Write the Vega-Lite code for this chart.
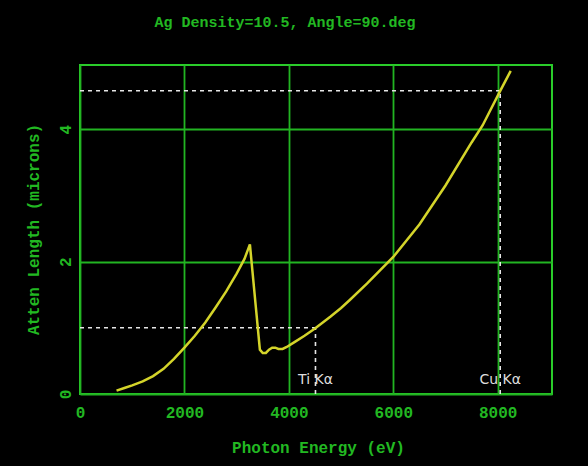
{
  "$schema": "https://vega.github.io/schema/vega-lite/v6.json",
  "width": 472,
  "height": 329,
  "autosize": {"type": "none"},
  "padding": {"left": 80, "top": 65, "right": 36, "bottom": 72},
  "background": "#000000",
  "title": {
    "text": "Ag Density=10.5, Angle=90.deg",
    "font": "Liberation Mono",
    "fontSize": 15,
    "fontWeight": "bold",
    "color": "#22b822",
    "anchor": "middle",
    "offset": 35,
    "dx": -31
  },
  "config": {
    "view": {"stroke": "#2acc2a", "strokeWidth": 2},
    "axis": {
      "domain": false,
      "ticks": false,
      "grid": true,
      "gridColor": "#22b422",
      "gridWidth": 1.8,
      "gridOpacity": 1,
      "labelColor": "#22b822",
      "labelFont": "Liberation Mono",
      "labelFontSize": 16,
      "labelFontWeight": "bold",
      "labelOverlap": false,
      "labelFlush": false,
      "titleColor": "#22b822",
      "titleFont": "Liberation Mono",
      "titleFontSize": 16,
      "titleFontWeight": "bold"
    }
  },
  "encoding": {
    "x": {
      "field": "E",
      "type": "quantitative",
      "scale": {"domain": [0, 9040], "nice": false, "zero": false},
      "axis": {
        "values": [0, 2000, 4000, 6000, 8000],
        "format": "d",
        "labelPadding": 10,
        "title": "Photon Energy (eV)",
        "titleX": 238,
        "titleY": 53,
        "titleBaseline": "middle",
        "titleAlign": "center"
      }
    },
    "y": {
      "field": "A",
      "type": "quantitative",
      "scale": {"domain": [0, 4.97], "nice": false, "zero": false},
      "axis": {
        "values": [0, 2, 4],
        "labelAngle": 270,
        "labelAlign": "center",
        "labelBaseline": "bottom",
        "labelPadding": 7,
        "title": "Atten Length (microns)",
        "titleX": -47,
        "titleY": 164,
        "titleAngle": 270,
        "titleBaseline": "middle",
        "titleAlign": "center"
      }
    }
  },
  "layer": [
    {
      "data": {"values": [
        {"E": 0, "E2": 4510, "A": 1.0, "A2": 1.0},
        {"E": 4510, "E2": 4510, "A": 0, "A2": 1.0},
        {"E": 0, "E2": 8048, "A": 4.58, "A2": 4.58},
        {"E": 8048, "E2": 8048, "A": 0, "A2": 4.58}
      ]},
      "mark": {"type": "rule", "color": "#e6e6e6", "strokeWidth": 1.6, "strokeDash": [4, 4]},
      "encoding": {
        "x2": {"field": "E2"},
        "y2": {"field": "A2"}
      }
    },
    {
      "data": {"values": [
        {"E": 4510, "A": 0.21, "label": "Ti Kα"},
        {"E": 8048, "A": 0.21, "label": "Cu Kα"}
      ]},
      "mark": {"type": "text", "color": "#dddddd", "font": "DejaVu Sans", "fontSize": 14, "align": "center", "baseline": "middle"},
      "encoding": {
        "text": {"field": "label"}
      }
    },
    {
      "data": {"values": [
        {"E": 700, "A": 0.05},
        {"E": 850, "A": 0.09},
        {"E": 1000, "A": 0.13},
        {"E": 1200, "A": 0.19},
        {"E": 1400, "A": 0.27},
        {"E": 1600, "A": 0.38},
        {"E": 1800, "A": 0.53},
        {"E": 2000, "A": 0.70},
        {"E": 2200, "A": 0.88},
        {"E": 2400, "A": 1.08},
        {"E": 2600, "A": 1.31},
        {"E": 2800, "A": 1.55},
        {"E": 3000, "A": 1.82},
        {"E": 3150, "A": 2.04},
        {"E": 3254, "A": 2.26},
        {"E": 3445, "A": 0.67},
        {"E": 3500, "A": 0.62},
        {"E": 3560, "A": 0.62},
        {"E": 3620, "A": 0.67},
        {"E": 3680, "A": 0.70},
        {"E": 3740, "A": 0.70},
        {"E": 3800, "A": 0.68},
        {"E": 3880, "A": 0.68},
        {"E": 3960, "A": 0.71},
        {"E": 4100, "A": 0.78},
        {"E": 4300, "A": 0.88},
        {"E": 4500, "A": 0.99},
        {"E": 4800, "A": 1.17},
        {"E": 5000, "A": 1.30},
        {"E": 5167, "A": 1.42},
        {"E": 5500, "A": 1.67},
        {"E": 6000, "A": 2.07},
        {"E": 6500, "A": 2.56},
        {"E": 6737, "A": 2.84},
        {"E": 7000, "A": 3.15},
        {"E": 7500, "A": 3.80},
        {"E": 7713, "A": 4.06},
        {"E": 8048, "A": 4.58},
        {"E": 8249, "A": 4.88}
      ]},
      "mark": {"type": "line", "color": "#d4d42a", "strokeWidth": 2.5, "interpolate": "linear"}
    }
  ]
}
